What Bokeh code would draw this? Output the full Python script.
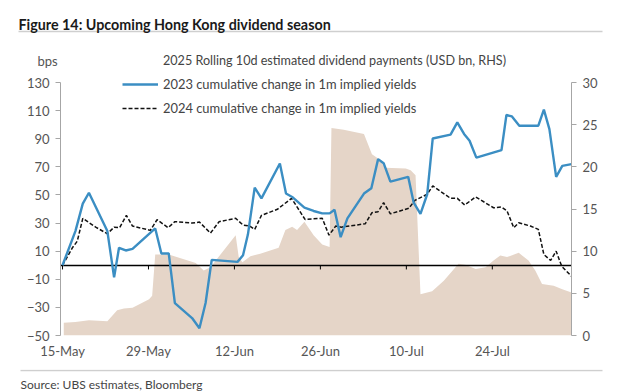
from bokeh.plotting import figure
from bokeh.layouts import column
from bokeh.models import (Range1d, LinearAxis, FixedTicker, Label, Legend,
                          LegendItem)
from bokeh.embed import file_html
from bokeh.resources import INLINE

# ---------------- data (x = days after 15-May) ----------------
tick_days = [0, 14, 28, 42, 56, 70]
tick_labels = ["15-May", "29-May", "12-Jun", "26-Jun", "10-Jul", "24-Jul"]
left_ticks = [-50, -30, -10, 10, 30, 50, 70, 90, 110, 130]
right_ticks = [0, 5, 10, 15, 20, 25, 30]

area_days = [0.2, 2.1, 4.3, 7.3, 8.9, 10.0, 11.4, 14.1, 14.6, 15.1,
             17.3, 21.7, 23.0, 24.1, 28.2, 28.7, 29.3, 30.6, 32.2, 35.2,
             36.3, 37.4, 38.2, 39.4, 40.9, 42.3, 43.5, 43.8, 45.8, 49.1,
             50.4, 51.4, 52.6, 55.9, 56.7, 57.5, 58.3, 60.2, 62.1, 64.5,
             65.6, 67.3, 68.9, 70.2, 71.3, 72.4, 74.3, 75.9, 77.0, 78.1,
             80.0, 81.4, 82.9]
area_vals = [1.5, 1.6, 1.8, 1.7, 3.0, 3.2, 3.3, 4.3, 4.7, 9.6,
             9.6, 8.6, 7.7, 8.1, 11.9, 9.3, 8.7, 9.4, 9.7, 10.4,
             12.5, 12.9, 12.5, 13.5, 11.9, 10.8, 10.5, 24.6, 24.4, 23.9,
             21.5, 21.0, 19.9, 19.8, 19.6, 19.0, 4.9, 5.25, 6.5, 8.5,
             8.4, 7.9, 8.1, 8.9, 9.5, 9.3, 9.8, 8.9, 7.7, 6.1,
             5.9, 5.5, 5.1]

y2023_days = [0, 2.1, 3.3, 4.3, 7.3, 8.4, 9.2, 10.3, 11.4, 15.1,
              16.1, 17.3, 18.3, 21.1, 22.3, 23.3, 24.3, 28.5, 29.4, 30.2,
              31.3, 32.4, 35.4, 36.4, 37.4, 39.4, 40.9, 42.3, 43.5, 44.3,
              45.3, 46.4, 49.1, 50.3, 51.4, 52.3, 53.4, 56.3, 57.2, 58.3,
              59.4, 60.3, 63.2, 64.3, 65.4, 66.3, 67.4, 71.5, 72.3, 73.2,
              74.4, 77.5, 78.4, 79.3, 80.4, 81.4, 82.9]
y2023_vals = [0, 24.3, 43.8, 51.6, 24.3, -8.6, 12.4, 10.5, 11.6, 26.2,
              8.4, 8.4, -26.9, -37.6, -44.8, -26.9, 3.8, 2.4, 7.1, 22.0,
              55.2, 47.6, 72.4, 51.0, 48.6, 41.0, 38.6, 36.9, 36.9, 39.5,
              20.0, 33.4, 51.0, 54.8, 75.5, 72.6, 59.5, 62.9, 44.5, 36.6,
              50.5, 90.2, 92.9, 101.6, 93.4, 88.6, 76.6, 81.9, 106.9, 105.9,
              99.3, 99.3, 110.7, 96.9, 62.9, 70.7, 71.9]

y2024_days = [0, 1.6, 2.4, 3.3, 5.4, 7.3, 8.4, 9.3, 10.4, 11.4,
              14.3, 15.4, 17.2, 18.3, 21.1, 22.3, 24.1, 25.5, 28.2, 29.4,
              30.5, 31.3, 32.4, 35.0, 37.3, 39.5, 42.3, 43.4, 44.5, 45.4,
              49.3, 50.4, 51.4, 52.3, 53.4, 56.4, 57.4, 59.4, 60.3, 63.2,
              64.3, 65.5, 67.3, 70.2, 71.5, 72.4, 73.5, 74.3, 76.2, 77.5,
              78.4, 79.5, 80.4, 81.3, 82.9]
y2024_vals = [0, 12.4, 17.1, 33.3, 27.1, 22.4, 27.1, 26.7, 35.5, 27.9,
              24.8, 32.4, 26.7, 31.0, 30.0, 30.7, 22.9, 31.0, 33.4, 28.6,
              27.9, 25.5, 35.5, 39.8, 47.6, 32.6, 33.4, 21.4, 27.9, 27.1,
              29.5, 37.4, 38.1, 44.5, 36.6, 40.5, 46.2, 50.5, 56.4, 47.6,
              47.6, 42.9, 48.6, 40.9, 41.4, 38.6, 26.7, 30.2, 27.9, 25.5,
              7.6, 3.4, 10.0, -0.7, -7.9]

title_text = "Figure 14: Upcoming Hong Kong dividend season"
source_text = "Source: UBS estimates, Bloomberg"
unit_text = "bps"
label_area = "2025 Rolling 10d estimated dividend payments (USD bn, RHS)"
label_2023 = "2023 cumulative change in 1m implied yields"
label_2024 = "2024 cumulative change in 1m implied yields"

# ---------------- styling ----------------
FONT = "Lato"
AREA_C = "#e5d5c8"
BLUE_C = "#3b8ec3"
AXIS_C = "#a6a6a6"
TXT_C = "#555555"
SEP_C = "#cfcfcf"
W = 620

def blank(height):
    # pixel-space strip: x to the right, y downward
    f = figure(width=W, height=height, output_backend="svg",
               toolbar_location=None, x_axis_type=None, y_axis_type=None,
               x_range=Range1d(0, W), y_range=Range1d(height, 0),
               min_border=0, outline_line_color=None, frame_align=False)
    f.grid.grid_line_color = None
    f.background_fill_color = "white"
    f.border_fill_color = "white"
    return f

def legend_style(size):
    return dict(glyph_width=36, glyph_height=18, label_height=18, spacing=6,
                padding=0, margin=0, border_line_color=None,
                background_fill_alpha=0, label_text_font=FONT,
                label_text_font_size=size, label_text_color="#444444",
                label_standoff=5)

# ---------------- top strip: title, rule, unit, first legend row ----------
top = blank(70)
top.add_layout(Label(x=18, y=46, x_units="screen", y_units="screen",
                     text=title_text, text_font=FONT, text_font_style="bold",
                     text_font_size="14.3px", text_color="#1a1a1a",
                     text_baseline="alphabetic"))
top.segment(x0=[18], y0=[31], x1=[602], y1=[31], line_color=SEP_C,
            line_width=1.5)
top.add_layout(Label(x=47, y=10, x_units="screen", y_units="screen",
                     text=unit_text, text_font=FONT, text_font_size="13px",
                     text_color=TXT_C, text_align="center",
                     text_baseline="middle"))
r_area_key = top.line(x=[], y=[], line_color=AREA_C, line_width=6)
top.add_layout(Legend(items=[LegendItem(label=label_area,
                                        renderers=[r_area_key])],
                      location=(122, 1), **legend_style("12.6px")))

# ---------------- main chart ----------------
p = figure(width=W, height=299, output_backend="svg", toolbar_location=None,
           x_range=Range1d(-0.33, 82.9), y_range=Range1d(-50, 138.57),
           min_border_left=60, min_border_right=49,
           min_border_top=0, min_border_bottom=34, frame_align=False)
p.extra_y_ranges = {"rhs": Range1d(0, 31.43)}
p.grid.grid_line_color = None
p.outline_line_color = None
p.background_fill_color = "white"
p.border_fill_color = "white"

ya = p.yaxis[0]
ya.ticker = FixedTicker(ticks=left_ticks)
ya.bounds = (left_ticks[0], left_ticks[-1])
ra = LinearAxis(y_range_name="rhs", ticker=FixedTicker(ticks=right_ticks),
                bounds=(right_ticks[0], right_ticks[-1]))
p.add_layout(ra, "right")
for ax in (ya, ra):
    ax.axis_line_color = AXIS_C
    ax.major_tick_line_color = AXIS_C
    ax.major_tick_out = 5
    ax.major_tick_in = 0
    ax.minor_tick_out = 0
    ax.minor_tick_in = 0
    ax.major_label_text_font = FONT
    ax.major_label_text_font_size = "13px"
    ax.major_label_text_color = TXT_C
    ax.major_label_standoff = 6

xa = p.xaxis[0]
xa.ticker = FixedTicker(ticks=tick_days)
xa.major_label_overrides = {d: l for d, l in zip(tick_days, tick_labels)}
xa.axis_line_color = None
xa.major_tick_line_color = None
xa.major_tick_out = 0
xa.major_tick_in = 0
xa.minor_tick_line_color = None
xa.major_label_text_font = FONT
xa.major_label_text_font_size = "13px"
xa.major_label_text_color = TXT_C
xa.major_label_standoff = 7

p.varea(x=area_days, y1=0, y2=area_vals, y_range_name="rhs",
        fill_color=AREA_C, fill_alpha=1)
p.hspan(y=[0], line_color="black", line_width=1.6)
p.segment(x0=tick_days, y0=0, x1=tick_days, y1=-3, line_color="black",
          line_width=1)
r2024 = p.line(y2024_days, y2024_vals, line_color="#111111", line_width=1.5,
               line_dash="4 2")
r2023 = p.line(y2023_days, y2023_vals, line_color=BLUE_C, line_width=2.4)

p.add_layout(Legend(items=[LegendItem(label=label_2023, renderers=[r2023]),
                           LegendItem(label=label_2024, renderers=[r2024])],
                    location=(62, 218), **legend_style("12.9px")))

# ---------------- bottom strip: rule and source ----------------
bot = blank(23)
bot.segment(x0=[20], y0=[1], x1=[602], y1=[1], line_color=SEP_C,
            line_width=1.5)
bot.add_layout(Label(x=20, y=8, x_units="screen", y_units="screen",
                     text=source_text, text_font=FONT, text_font_size="12px",
                     text_color="#444444", text_baseline="alphabetic"))

layout = column(top, p, bot, spacing=0)
open("out.html", "w").write(file_html(layout, INLINE))
